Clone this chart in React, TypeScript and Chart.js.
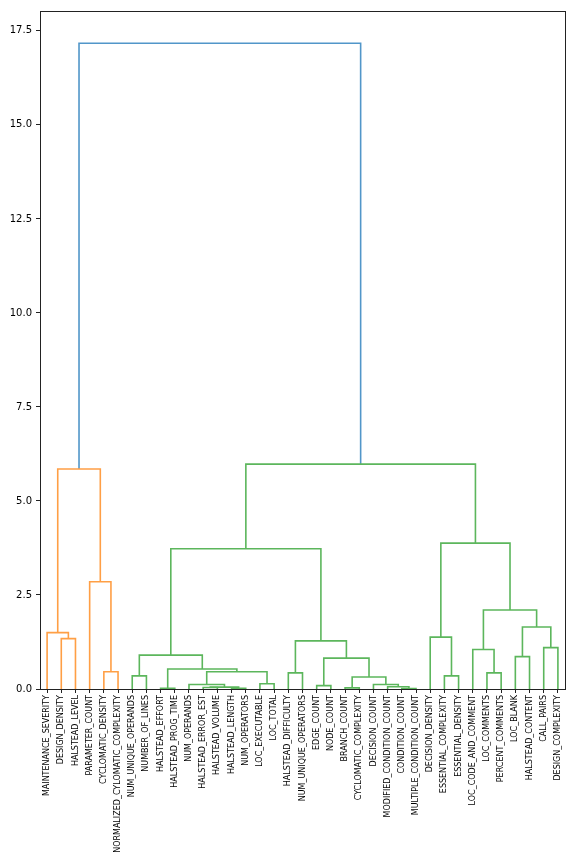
import React, { useEffect, useRef } from "react";
import { Chart, registerables } from "chart.js";

Chart.register(...registerables);

// Leaves in display order (left to right)
const leafLabels = [
  "MAINTENANCE_SEVERITY",
  "DESIGN_DENSITY",
  "HALSTEAD_LEVEL",
  "PARAMETER_COUNT",
  "CYCLOMATIC_DENSITY",
  "NORMALIZED_CYLOMATIC_COMPLEXITY",
  "NUM_UNIQUE_OPERANDS",
  "NUMBER_OF_LINES",
  "HALSTEAD_EFFORT",
  "HALSTEAD_PROG_TIME",
  "NUM_OPERANDS",
  "HALSTEAD_ERROR_EST",
  "HALSTEAD_VOLUME",
  "HALSTEAD_LENGTH",
  "NUM_OPERATORS",
  "LOC_EXECUTABLE",
  "LOC_TOTAL",
  "HALSTEAD_DIFFICULTY",
  "NUM_UNIQUE_OPERATORS",
  "EDGE_COUNT",
  "NODE_COUNT",
  "BRANCH_COUNT",
  "CYCLOMATIC_COMPLEXITY",
  "DECISION_COUNT",
  "MODIFIED_CONDITION_COUNT",
  "CONDITION_COUNT",
  "MULTIPLE_CONDITION_COUNT",
  "DECISION_DENSITY",
  "ESSENTIAL_COMPLEXITY",
  "ESSENTIAL_DENSITY",
  "LOC_CODE_AND_COMMENT",
  "LOC_COMMENTS",
  "PERCENT_COMMENTS",
  "LOC_BLANK",
  "HALSTEAD_CONTENT",
  "CALL_PAIRS",
  "DESIGN_COMPLEXITY",
];

// Linkage (scipy style): ids < 37 are leaves, id 37 + k is merge k
const mergeLeft = [
  1, 0, 4, 3, 38, 6, 8, 11, 13, 44, 10, 15, 47, 43, 42, 17, 19, 21, 25, 24, 23, 54, 53, 52, 51,
  28, 27, 31, 30, 33, 35, 66, 65, 63, 61, 41,
];
const mergeRight = [
  2, 37, 5, 39, 40, 7, 9, 12, 14, 45, 46, 16, 48, 49, 50, 18, 20, 22, 26, 55, 56, 57, 58, 59, 60,
  29, 62, 32, 64, 34, 36, 67, 68, 69, 70, 71,
];
const mergeHeight = [
  1.34, 1.5, 0.46, 2.85, 5.85, 0.35, 0.02, 0.04, 0.02, 0.05, 0.12, 0.14, 0.46, 0.53, 0.9, 0.43,
  0.09, 0.03, 0.01, 0.06, 0.12, 0.32, 0.82, 1.28, 3.73, 0.35, 1.38, 0.43, 1.05, 0.86, 1.1, 1.65,
  2.1, 3.88, 5.98, 17.17,
];

const yTickValues = [0, 2.5, 5, 7.5, 10, 12.5, 15, 17.5];

const clusterColors = ["#ff9f45", "#5cb65c"];
const aboveColor = "#5196c9";

function buildDatasets() {
  const n = leafLabels.length;
  const pos: { x: number; y: number }[] = [];
  for (let i = 0; i < n; i++) pos.push({ x: 5 + 10 * i, y: 0 });
  mergeLeft.forEach((a, k) => {
    const b = mergeRight[k];
    pos.push({ x: (pos[a].x + pos[b].x) / 2, y: mergeHeight[k] });
  });
  const threshold = 0.7 * Math.max(...mergeHeight);
  const colors: string[] = mergeLeft.map(() => aboveColor);
  let ci = 0;
  const paint = (node: number, c: string) => {
    if (node < n) return;
    const k = node - n;
    colors[k] = c;
    paint(mergeLeft[k], c);
    paint(mergeRight[k], c);
  };
  const walk = (node: number) => {
    if (node < n) return;
    const k = node - n;
    if (mergeHeight[k] < threshold) {
      paint(node, clusterColors[ci % clusterColors.length]);
      ci++;
    } else {
      walk(mergeLeft[k]);
      walk(mergeRight[k]);
    }
  };
  walk(n + mergeLeft.length - 1);

  return mergeLeft.map((a, k) => {
    const b = mergeRight[k];
    const h = mergeHeight[k];
    return {
      data: [
        { x: pos[a].x, y: pos[a].y },
        { x: pos[a].x, y: h },
        { x: pos[b].x, y: h },
        { x: pos[b].x, y: pos[b].y },
      ],
      showLine: true,
      borderColor: colors[k],
      backgroundColor: colors[k],
      borderWidth: 1.6,
      pointRadius: 0,
      tension: 0,
      clip: false as any,
    };
  });
}

const framePlugin = {
  id: "frame",
  afterDraw(chart: any) {
    const { ctx, chartArea } = chart;
    ctx.save();
    ctx.strokeStyle = "#222";
    ctx.lineWidth = 1;
    ctx.strokeRect(
      Math.round(chartArea.left) + 0.5,
      Math.round(chartArea.top) + 0.5,
      Math.round(chartArea.right - chartArea.left),
      Math.round(chartArea.bottom - chartArea.top)
    );
    ctx.restore();
  },
};

export default function App() {
  const ref = useRef<HTMLCanvasElement>(null);
  useEffect(() => {
    if (!ref.current) return;
    const yMax = Math.max(...mergeHeight) * 1.05;
    const chart = new Chart(ref.current, {
      type: "scatter",
      data: { datasets: buildDatasets() as any },
      options: {
        animation: false,
        responsive: false,
        events: [],
        layout: { padding: { top: 11, right: 11, left: 0, bottom: 0 } },
        plugins: { legend: { display: false }, tooltip: { enabled: false } },
        scales: {
          x: {
            type: "linear",
            min: 0,
            max: leafLabels.length * 10,
            afterBuildTicks: (s: any) => {
              s.ticks = leafLabels.map((_, i) => ({ value: 5 + 10 * i }));
            },
            afterFit: (s: any) => {
              s.height = 175;
            },
            ticks: {
              autoSkip: false,
              maxRotation: 90,
              minRotation: 90,
              padding: 2,
              color: "#000",
              font: { family: "DejaVu Sans", size: 8 },
              callback: (_v: any, i: number) => leafLabels[i],
            },
            grid: {
              display: true,
              drawOnChartArea: false,
              drawTicks: true,
              tickLength: 4,
              color: "#222",
            },
            border: { display: true, color: "#222" },
          },
          y: {
            type: "linear",
            min: 0,
            max: yMax,
            afterBuildTicks: (s: any) => {
              s.ticks = yTickValues.map((v) => ({ value: v }));
            },
            afterFit: (s: any) => {
              s.width = 40;
            },
            ticks: {
              padding: 4,
              color: "#000",
              font: { family: "DejaVu Sans", size: 10 },
              callback: (v: any) => Number(v).toFixed(1),
            },
            grid: {
              display: true,
              drawOnChartArea: false,
              drawTicks: true,
              tickLength: 4,
              color: "#222",
            },
            border: { display: true, color: "#222" },
          },
        },
      },
      plugins: [framePlugin],
    });
    return () => chart.destroy();
  }, []);
  return (
    <div style={{ position: "absolute", left: 0, top: 0, width: 576, height: 864, background: "#fff" }}>
      <canvas ref={ref} width={576} height={864} style={{ display: "block" }} />
    </div>
  );
}
